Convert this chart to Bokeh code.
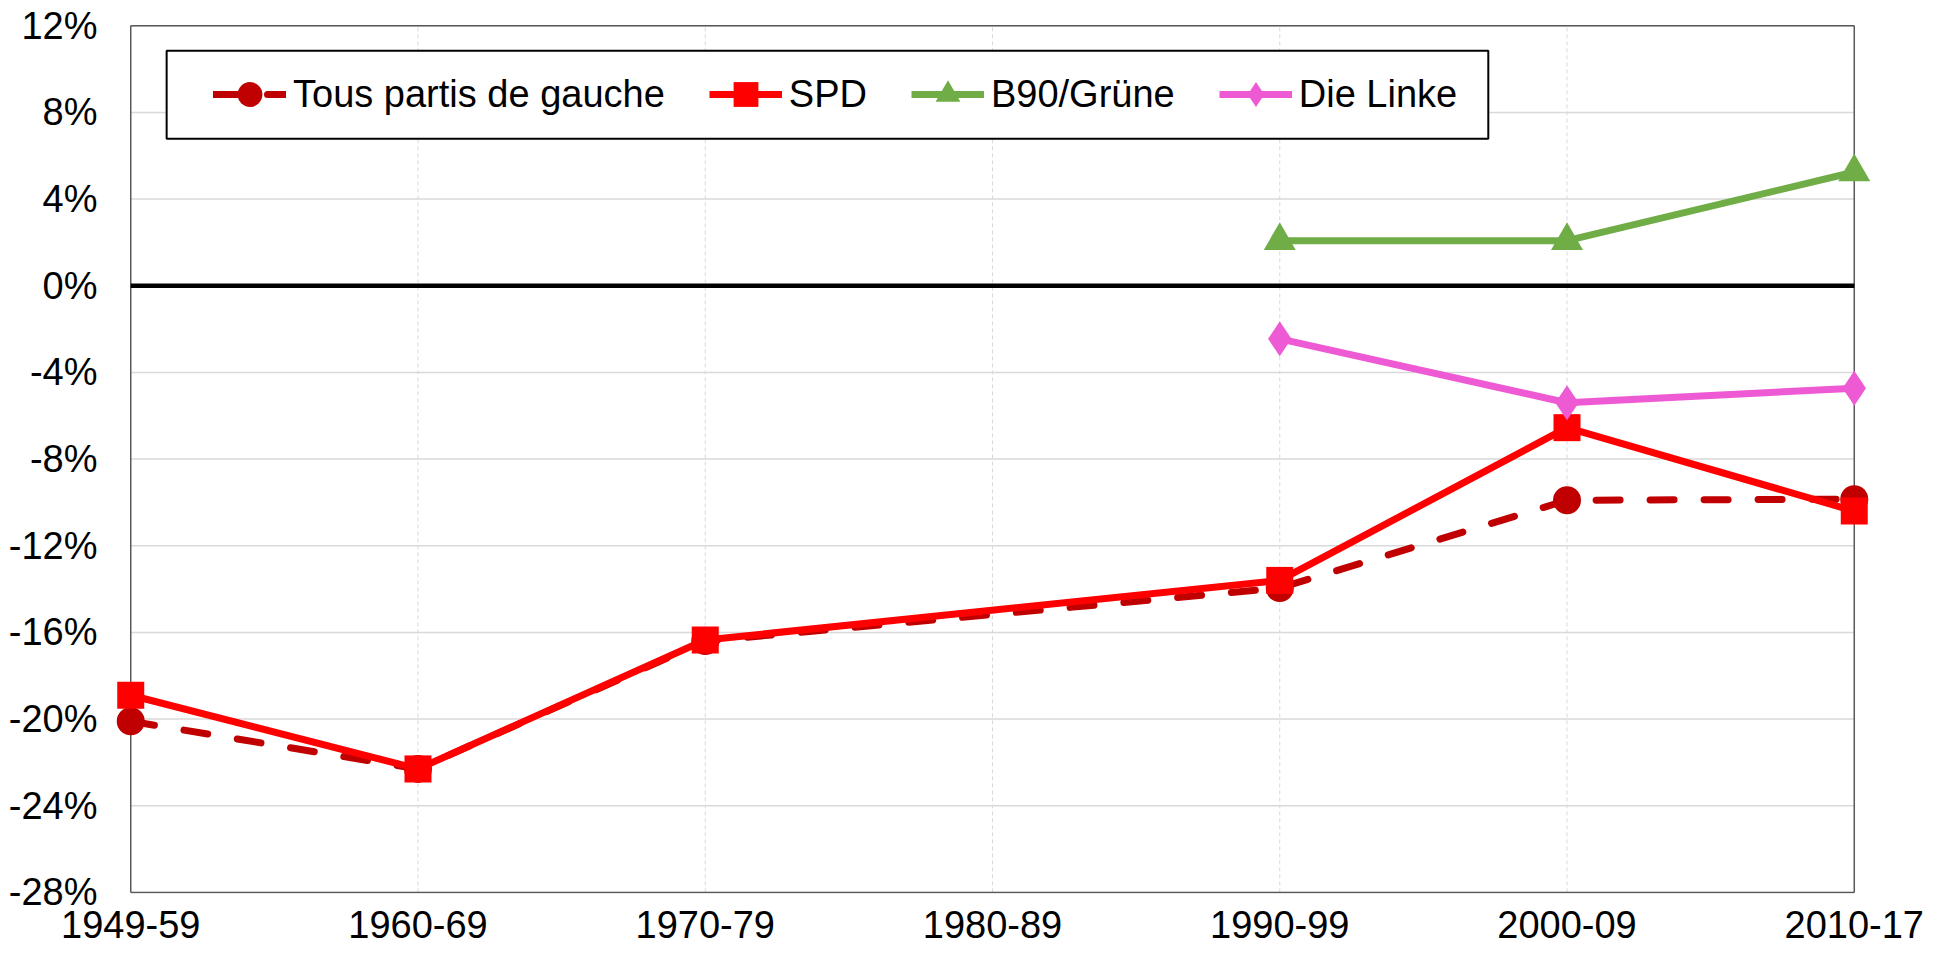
from bokeh.plotting import figure
from bokeh.models import (Range1d, FixedTicker, PrintfTickFormatter, BoxAnnotation,
                          Legend, LegendItem, ColumnDataSource)
from bokeh.embed import file_html
from bokeh.resources import INLINE

periods = ["1949-59", "1960-69", "1970-79", "1980-89", "1990-99", "2000-09", "2010-17"]
tous = [-20.1, -22.3, -16.4, None, -13.95, -9.9, -9.85]
spd = [-18.9, -22.3, -16.35, None, -13.6, -6.55, -10.4]
gruene = [None, None, None, None, 2.08, 2.08, 5.25]
linke = [None, None, None, None, -2.45, -5.4, -4.73]
y_ticks = [-28, -24, -20, -16, -12, -8, -4, 0, 4, 8, 12]

FONT = "Liberation Sans"
FS = "38px"
n = len(periods)
ymin, ymax = y_ticks[0], y_ticks[-1]

p = figure(width=1937, height=954, output_backend="svg", toolbar_location=None,
           x_range=Range1d(-0.06, n - 1 + 0.06), y_range=Range1d(ymin - 0.05, ymax + 0.15),
           min_border_left=113, min_border_top=22, min_border_right=66, min_border_bottom=61)
p.background_fill_color = "white"
p.border_fill_color = "white"
p.outline_line_color = None
p.xgrid.visible = False
p.ygrid.visible = False

p.xaxis.ticker = FixedTicker(ticks=list(range(n)))
p.xaxis.major_label_overrides = {i: s for i, s in enumerate(periods)}
p.yaxis.ticker = FixedTicker(ticks=y_ticks)
p.yaxis.formatter = PrintfTickFormatter(format="%d%%")
for ax in (p.xaxis, p.yaxis):
    ax.axis_line_color = None
    ax.major_tick_line_color = None
    ax.minor_tick_line_color = None
    ax.major_tick_out = 0
    ax.major_tick_in = 0
    ax.minor_tick_out = 0
    ax.major_label_text_font = FONT
    ax.major_label_text_font_size = FS
    ax.major_label_text_color = "black"
p.yaxis.major_label_standoff = 16
p.xaxis.major_label_standoff = 17

# gridlines (inside the category span only)
inner = list(range(1, n - 1))
p.segment(x0=[0] * len(y_ticks), x1=[n - 1] * len(y_ticks), y0=y_ticks, y1=y_ticks,
          line_color="#d9d9d9", line_width=1.5, level="underlay")
p.segment(x0=inner, x1=inner, y0=[ymin] * len(inner), y1=[ymax] * len(inner),
          line_color="#d9d9d9", line_width=1, line_dash="4 3", level="underlay")
# plot-area border
p.segment(x0=[0, 0, 0, n - 1], x1=[n - 1, n - 1, 0, n - 1],
          y0=[ymin, ymax, ymin, ymin], y1=[ymin, ymax, ymax, ymax],
          line_color="#595959", line_width=1.5, level="underlay")
# zero line
p.segment(x0=[0], x1=[n - 1], y0=[0], y1=[0], line_color="black", line_width=4.5,
          level="underlay")


def src(vals):
    xs = [i for i, v in enumerate(vals) if v is not None]
    ys = [v for v in vals if v is not None]
    return ColumnDataSource(dict(x=xs, y=ys))


series = [
    ("Tous partis de gauche", tous, "#c00000", "circle", 28, "24 30"),
    ("SPD", spd, "#ff0000", "square", 27, "solid"),
    ("B90/Grüne", gruene, "#70ad47", "triangle", 32, "solid"),
    ("Die Linke", linke, "#ee5ad3", "diamond", 35, "solid"),
]
items = []
for label, vals, color, marker, size, dash in series:
    s = src(vals)
    lr = p.line("x", "y", source=s, line_color=color, line_width=7,
                line_dash=dash, line_cap="round" if dash != "solid" else "butt",
                line_join="round")
    sr = p.scatter("x", "y", source=s, marker=marker, size=size,
                   fill_color=color, line_color=color, line_width=0)
    items.append(LegendItem(label=label, renderers=[lr, sr]))

# legend frame (white box with black border)
p.add_layout(BoxAnnotation(left=0.125, right=4.726, top=10.847, bottom=6.787,
                           fill_color="white", fill_alpha=1.0,
                           line_color="black", line_width=2, line_alpha=1.0))

legend = Legend(items=items, orientation="horizontal", location=(100, 768),
                spacing=44, glyph_width=73, glyph_height=62, label_standoff=7,
                padding=13, label_height=40,
                label_text_font=FONT, label_text_font_size=FS,
                label_text_color="black",
                border_line_color=None, background_fill_alpha=0.0)
p.add_layout(legend, "center")

open("out.html", "w").write(file_html(p, INLINE))
